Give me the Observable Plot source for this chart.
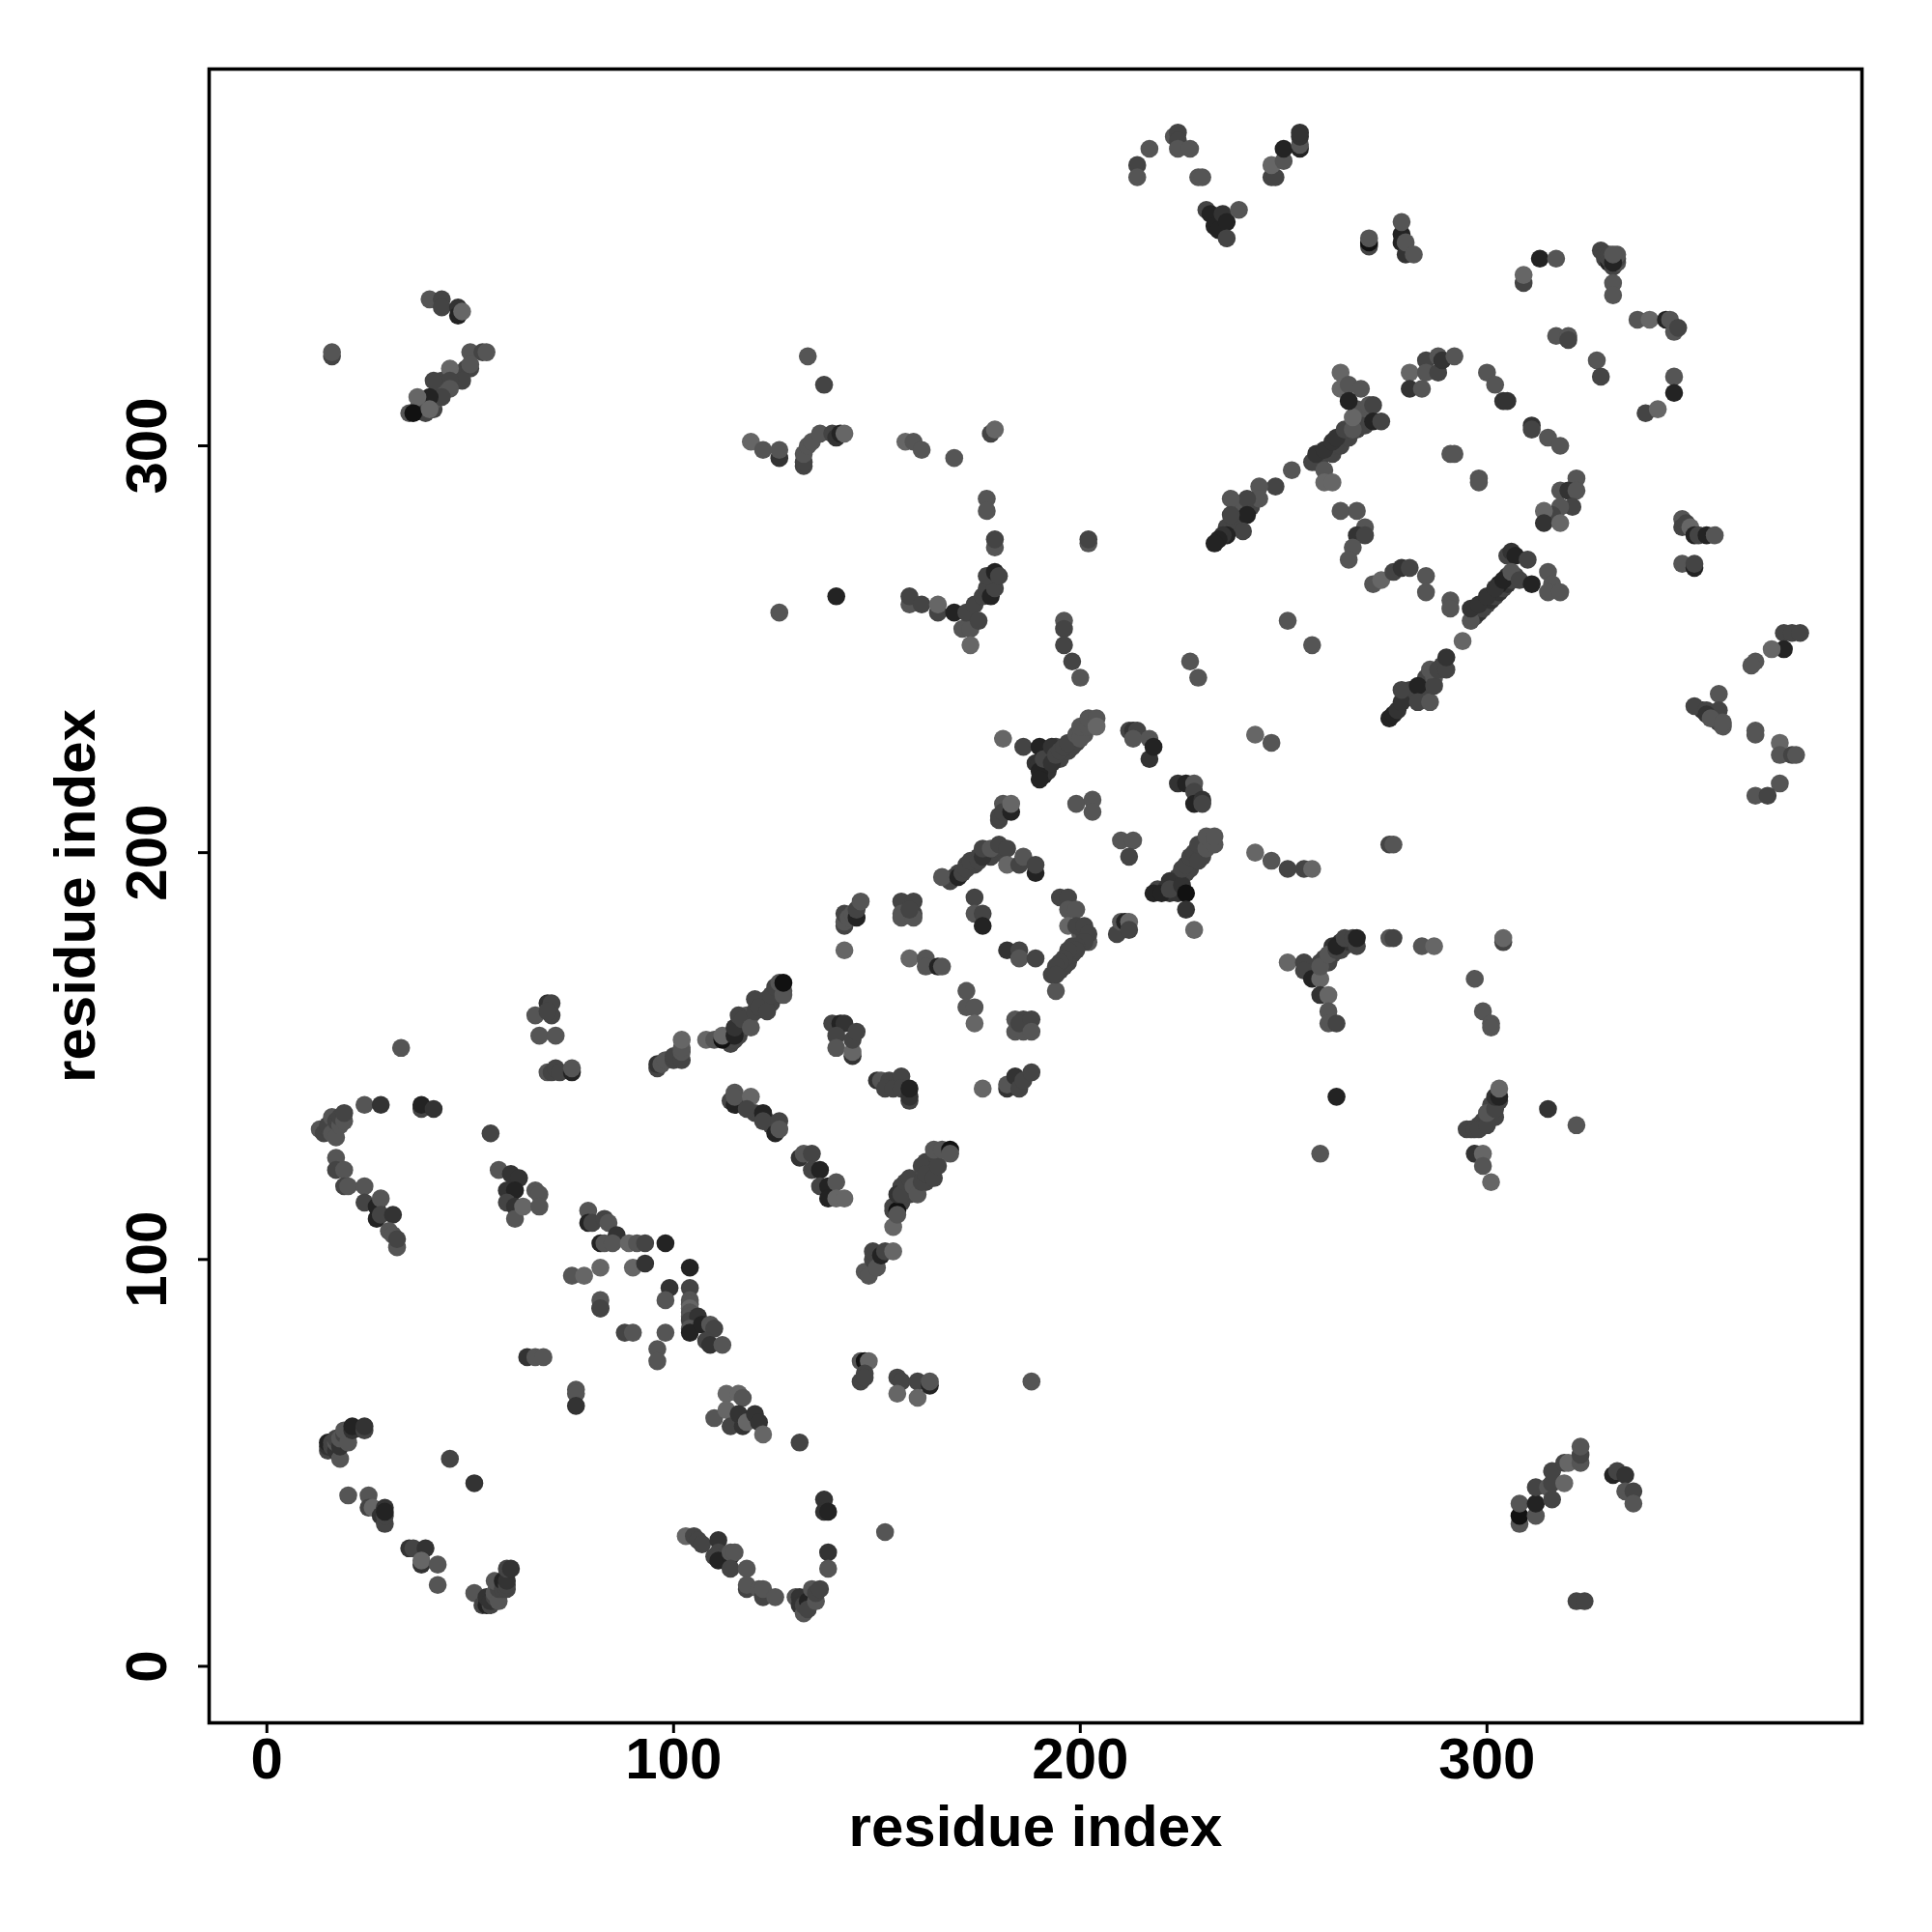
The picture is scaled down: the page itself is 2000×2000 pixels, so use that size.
<!DOCTYPE html>
<html><head><meta charset="utf-8">
<script src="https://cdn.jsdelivr.net/npm/d3@7"></script>
<script src="https://cdn.jsdelivr.net/npm/@observablehq/plot@0.6"></script>
<style>html,body{margin:0;padding:0;background:#fff}</style>
</head><body><div id="chart"></div>
<script>
// contacts as [residue i, residue j, level]; level 1 (weak) .. 6 (strong)
const denseBands = [[258,296,3],[259,297,3],[260,298,3],[261,299,3],[262,298,3],[262,300,3],[263,301,3],[264,300,3],[264,302,3],[265,303,3],[266,302,3],[266,304,3],[267,305,3],[268,304,3],[268,306,3],[270,306,3],[268,309,2],[269,307,2],[270,305,3],[271,307,2],[269,305,3],
[280,238,4],[281,240,3],[284,240,3],[285,243,3],[287,243,2],[289,246,3],
[297,258,3],[298,259,4],[299,260,3],[300,261,3],[301,262,4],[302,263,3],[303,264,4],[304,265,3],[305,266,4],[306,267,3],[307,268,3],[303,266,5],[305,268,4],
[238,284,3],[239,285,3],[240,286,2],[236,280,3],[242,285,3],
[189,222,4],[190,222,4],[191,219,5],[192,220,4],[192,222,3],[194,226,3],[195,223,3],[197,225,3],[198,226,3],[199,227,3],[201,229,2],[201,230,2],[203,232,2],
[219,191,3],[221,191,4],[222,190,4],[223,191,4],[224,190,4],[224,194,3],[226,195,3],[227,196,3],[228,198,3],[230,199,3],[230,201,2],[232,203,2],
[193,170,3],[195,171,3],[196,172,3],[197,173,3],[198,175,3],[198,177,3],[200,178,3],[200,180,2],[201,180,3],[202,178,2],
[168,193,3],[169,194,3],[170,195,3],[172,197,3],[174,197,3],[175,199,3],[177,200,3],[178,199,3],[180,200,3],[179,201,3],
[256,172,3],[257,171,3],[258,170,2],[258,171,3],[259,173,3],[260,174,3],[261,173,3],[262,175,3],[262,177,4],[264,176,3],[264,178,4],[265,177,3],[266,178,4],
[296,132,3],[298,133,3],[299,134,3],[301,135,3],[301,138,3],[302,135,3],[303,139,3],
[114,153,3],[115,154,3],[116,155,3],[117,157,3],[118,158,3],[118,160,2],[119,160,2],[122,163,3],[123,164,3],[124,163,3],[125,165,3],[126,166,2],[127,166,2],
[114,139,3],[116,139,3],[117,138,3],[118,139,2],[120,136,3],[123,134,3],[124,133,3],[125,133,2],
[154,112,3],[154,113,3],[156,114,3],[156,118,3],[157,117,3],[158,116,3],[158,118,3],[160,118,3],[162,119,3],[162,124,3],[163,122,3],[163,124,3],
[37,309,3],[38,310,3],[39,308,3],[39,311,3],[41,309,3],[41,311,2],[42,313,3],[42,315,3],[43,316,3],[44,315,2],[46,316,3],[47,317,3],[48,318,3],[49,319,3],
[353,235,4],[356,234,3],[357,232,3],[358,231,2],
[328,348,3],[329,346,3],[330,345,5],[330,346,3],[331,344,3],[332,345,2],[332,346,3],[332,347,2]];
const lowerLeft = [[15,53,3],[15,54,4],[15,55,5],[16,54,3],[16,55,3],[17,53,4],[17,55,2],[17,56,3],[18,51,2],[18,54,4],[18,56,2],[19,57,3],[19,58,2],[20,55,2],[21,58,4],[21,59,5],[24,58,3],[24,59,4],
[20,42,2],[25,42,2],[25,39,3],[26,39,1],[28,37,4],[29,35,3],[29,37,3],[29,39,4],[29,38,5],
[35,29,4],[36,29,3],[38,25,4],[39,29,4],[38,26,1],[42,25,2],[42,20,2],[45,51,3],[51,45,4],
[51,18,2],[53,15,3],[54,15,5],[55,15,3],[54,17,4],[55,16,4],[56,17,3],[56,18,2],[57,16,2],[57,19,3],[56,21,2],[58,19,3],[58,21,5],[59,19,3],[59,20,3],[59,21,4],[59,24,3],[60,24,4]];
const lowerMid = [[64,76,4],[66,76,2],[68,76,2],[76,68,2],[76,67,2],[76,64,4],[88,82,3],[90,82,2],[98,82,2],[96,78,2],[96,75,2],[82,88,3],
[103,32,1],[105,32,3],[106,31,3],[107,30,3],[111,31,4],[111,28,3],[110,27,3],[111,26,5],[114,27,5],[114,28,2],[115,28,2],[114,24,3],[118,24,2],[118,19,3],[118,20,2],[121,19,2],[122,17,3],[122,19,2],[125,17,2],
[130,17,2],[131,17,4],[131,15,4],[132,13,2],[132,15,3],[133,16,5],[133,14,3],[134,19,2],[135,16,2],[135,18,3],[136,19,3],[137,41,4],[137,38,4],[138,38,5],[138,28,4],[138,24,2],[152,33,2],
[110,61,2],[113,67,1],[116,67,1],[117,66,2],[113,63,1],[114,59,3],[116,62,4],[117,59,4],[118,60,1],[120,62,4],[121,60,4],[122,57,1],[131,55,3],
[146,75,2],[147,75,6],[148,75,1],[146,70,3],[147,72,3],[147,71,3],[155,71,3],[156,70,3],[155,67,1],[160,70,3],[160,66,1],[163,69,5],[163,70,2],[188,70,2],
[308,35,2],[308,37,6],[308,40,2],[312,37,2],[312,40,5],[312,44,3],[315,44,2],[316,41,3],[316,45,3],[316,48,3],[319,45,1],[319,50,3],[320,50,1],[323,50,2],[323,52,3],[323,54,2],
[331,47,5],[332,48,3],[334,47,4],[334,43,2],[336,43,3],[336,40,2],[322,16,3],[324,16,3]];
const midLeft = [[33,152,2],[24,138,2],[28,138,4],[38,137,3],[38,138,5],[41,137,4],
[13,132,2],[14,131,3],[15,132,3],[15,133,3],[16,131,2],[17,130,2],[16,135,2],[17,134,3],[18,133,2],[18,135,3],[19,134,2],[19,136,3],
[17,125,2],[17,122,3],[19,122,2],[19,118,3],[20,118,2],[24,118,2],[24,114,3],[27,113,5],[28,115,2],[27,110,5],[28,111,3],[31,111,4],[30,107,2],[31,106,2],[32,103,2],[32,105,3],
[69,163,4],[70,163,3],[66,160,2],[70,160,3],[69,161,3],[67,155,2],[71,155,2],[69,146,2],[70,146,3],[71,147,3],[72,146,3],[75,146,5],[75,147,2],[55,131,3],
[57,122,2],[60,121,4],[62,120,4],[59,117,4],[61,117,5],[59,114,3],[61,113,4],[61,110,2],[63,113,1],[66,117,2],[67,116,2],[67,113,2],
[79,112,2],[79,109,5],[80,109,3],[83,110,3],[84,109,2],[82,104,5],[83,104,2],[86,106,4],[85,104,2],[89,104,1],[91,104,2],[93,104,3],[98,104,5],
[82,98,1],[75,96,2],[78,96,1],[90,98,1],[93,99,4],[104,98,5],[99,93,4],[98,90,2],[104,93,3],[82,90,2],[82,88,3],
[104,90,2],[104,89,2],[104,88,1],[104,87,2],[104,86,2],[104,85,3],[106,86,4],[104,83,2],[104,82,5],[107,84,5],[109,84,2],[110,83,3],[108,80,3],[109,79,4],[112,79,2],
[96,147,3],[96,148,4],[97,148,2],[98,149,2],[100,149,3],[100,150,3],[102,149,3],[102,151,2],[102,152,2],[102,154,1]];
const midCentre = [[108,154,1],[110,154,2],[112,154,6],[112,155,1],[115,155,5],[115,157,4],[116,160,3],[117,159,3],[119,157,2],[120,161,3],[120,164,3],[121,162,3],[123,161,3],[124,165,3],[125,167,3],[127,165,2],[126,168,2],[127,168,6],
[115,138,5],[115,141,2],[115,140,2],[119,140,1],[118,137,3],[122,136,5],[122,134,3],[125,131,5],[126,134,3],[126,132,2],
[131,125,4],[132,126,2],[134,126,3],[134,122,3],[136,122,5],[136,118,3],[138,118,5],[140,119,2],[138,115,5],[140,115,1],[142,115,1],
[147,97,2],[148,96,2],[149,100,3],[149,102,3],[150,98,2],[151,101,5],[152,102,3],[154,102,1],
[155,112,6],[154,108,1],[155,111,2],[155,116,4],[156,116,3],[157,119,3],[158,120,3],[159,118,2],[160,116,2],[161,119,3],[161,123,3],[162,121,3],[164,120,3],[165,123,3],[164,127,2],[166,127,2],[168,127,6],[168,126,2],
[139,158,3],[141,158,5],[142,158,4],[140,155,3],[140,152,2],[144,150,4],[144,151,1],[144,154,3],[145,156,3],
[150,144,4],[151,144,2],[153,144,3],[152,142,3],[154,142,3],[156,145,3],[156,142,3],[158,139,3],[158,140,4],[158,142,5],
[142,176,1],[142,182,3],[142,183,2],[142,185,3],[143,184,2],[144,185,2],[145,184,5],[145,186,3],[146,188,2],
[156,188,3],[159,188,3],[156,185,2],[156,184,2],[159,185,3],[159,184,2],[158,186,3],
[158,174,1],[162,174,2],[162,172,2],[165,172,5],[166,172,2],[172,166,2],[172,162,2],[174,162,2],[174,158,1],
[182,176,4],[185,176,3],[185,174,2],[189,174,3],[194,166,2],
[184,159,2],[184,156,2],[186,159,3],[186,156,2],[185,158,3],[188,159,3],[188,156,2],
[176,142,1],[182,142,4],[182,143,2],[184,145,4],[185,142,3],[186,144,3],[188,146,3]];
const centreRing = [[166,194,2],[170,194,5],[171,195,3],[172,196,3],[173,198,3],[175,198,3],[176,199,4],[176,201,3],[178,201,2],[180,202,3],[182,201,3],[182,197,1],[185,197,3],[186,199,2],[189,195,5],[189,197,3],
[174,189,3],[174,185,2],[176,185,3],[176,182,5],[195,189,3],[197,189,3],[197,186,2],[199,186,2],[197,182,1],[199,182,3],[201,182,3],[202,180,3],[201,178,3],[199,177,3],[199,176,3],[197,176,3],[196,174,3],[195,173,3],[194,172,3],[194,170,3],
[180,208,3],[180,209,3],[181,212,2],[181,210,3],[183,210,5],[183,212,1],[199,212,2],[203,213,2],[203,210,2],
[209,180,3],[210,183,2],[211,183,5],[212,183,1],[212,181,3],[210,203,2],[213,203,2],[212,199,3],
[181,228,1],[186,226,3],[190,226,5],[190,220,5],[190,218,5],[191,223,3],[193,222,4],[193,226,4],[194,224,3],[195,225,3],[196,226,3],[197,227,3],[199,229,2],[200,228,2],[200,231,2],[202,231,2],[202,233,2],[204,233,2],[204,231,1],
[212,230,3],[213,230,4],[214,230,3],[213,228,2],[217,228,2],[217,223,4],[218,226,5],
[224,217,4],[226,217,5],[228,217,2],[228,215,3],[228,212,5],[230,213,4],[230,212,3],
[218,190,5],[220,190,5],[222,193,4],[222,191,3],[225,192,4],[225,196,3],[226,197,3],[227,199,3],[228,200,3],[229,198,3],[229,202,3],[231,201,2],[231,204,2],[233,202,2],[233,204,2],[226,190,6],[226,186,4],[228,181,1],
[243,229,1],[247,227,2],[227,247,2],[229,243,2],[196,257,2],[196,255,3],[196,251,3],[198,247,3],[200,243,2],[243,200,1],[247,198,2],[251,196,3],[255,196,3],[257,196,1],[276,202,3],[277,202,2]];
const lowerRight = [[251,173,1],[255,173,3],[255,171,3],[257,169,5],[259,169,1],[259,172,2],[261,175,2],[263,176,3],[263,177,5],[265,179,3],[267,179,3],[268,177,3],[268,179,5],[259,165,4],[261,165,1],[261,161,2],[261,158,2],[263,158,3],[263,140,5],[259,126,2],
[276,179,2],[277,179,3],[284,177,2],[287,177,1],[304,178,3],[304,179,1],[297,169,2],[299,161,2],[301,158,2],[301,157,2],
[295,132,3],[297,132,3],[298,132,3],[300,133,3],[300,136,2],[302,137,3],[302,140,4],[303,140,5],[303,142,1],[315,137,4],[322,133,2],[297,126,4],[299,126,1],[299,123,2],[301,119,1]];
const upperCentre = [[276,233,5],[277,234,5],[278,235,4],[279,237,4],[279,240,3],[283,241,5],[283,237,3],[286,237,2],[287,241,3],[286,245,2],[288,245,3],[290,245,3],[290,248,4],[294,252,1],
[251,257,2],[257,251,2],[291,262,2],[291,260,2],[296,257,2],[296,260,4],[298,261,4],[300,263,4],[302,265,4],[304,267,5],[305,273,3],[306,274,4],[307,273,5],[306,269,2],[308,267,3],[310,272,3],[311,266,5],[315,269,2],[316,266,2],[315,264,2],[318,264,2],
[272,266,2],[274,267,1],[277,269,3],[279,270,4],[281,270,3],[285,268,2],[285,264,2],
[264,284,2],[268,284,2],[270,280,2],[268,278,4],[270,278,3],[267,275,2],[266,272,2],
[252,294,2],[248,290,3],[244,290,2],[244,287,2],[241,287,3],[237,287,2],[238,281,3],[241,283,5],[237,283,3],[240,279,3],[236,278,5],[235,278,4],[234,277,5],[233,276,5],
[257,296,3],[258,298,4],[260,294,2],[260,291,1],[262,291,1],[260,299,4],[262,301,4],[263,302,4],[265,304,3],[267,304,2],[267,307,1],
[264,318,1],[264,314,1],[266,315,2],[269,314,2],[266,311,5],[271,310,2],[272,310,3],[272,306,5],[274,306,3],
[281,318,1],[281,314,4],[284,314,2],[285,321,3],[285,318,2],[288,318,3],[288,322,2],[289,321,4],[292,322,2],
[300,318,2],[302,315,2],[304,311,4],[305,311,4],[311,305,4],[311,304,3],[315,302,2],[318,300,2],[291,298,2],[292,298,2],[298,292,2],[298,291,2],
[322,292,2],[318,289,2],[320,289,4],[322,289,2],[321,285,3],[318,285,2],[316,283,3],[314,284,1],[314,281,4],[318,281,1]];
const upperRight = [[313,346,5],[317,346,2],[309,340,3],[309,342,1],[329,347,3],[330,347,3],[331,345,5],[331,347,2],[331,340,2],[331,337,2],
[337,331,2],[340,331,1],[344,331,5],[345,331,2],[346,328,2],[347,329,3],[346,317,2],[346,313,5],[339,308,3],[342,309,1],
[317,327,2],[320,327,2],[320,326,3],[327,321,2],[328,317,3],
[348,282,2],[348,280,3],[349,281,3],[350,280,1],[351,278,5],[352,278,3],[354,278,5],[356,278,2],[348,271,2],[351,270,5],[351,271,3],
[373,254,3],[375,254,3],[377,254,3],[373,250,5],[370,250,1],[366,247,2],[365,246,2],
[351,236,3],[357,239,2],[354,235,3],[357,235,3],[354,234,4],[355,233,2],[358,232,2],[366,230,2],[366,229,2],[372,227,1],[372,224,2],[375,224,3],[376,224,2],[372,217,2],[366,214,2],[369,214,3]];
const topEdge = [[214,369,3],[214,366,2],[217,373,2],[223,376,2],[224,377,3],[224,375,3],[224,373,2],[227,373,2],[229,366,2],[230,366,2],
[231,358,3],[232,357,5],[233,354,5],[234,353,5],[235,357,4],[236,355,5],[236,351,3],[239,358,2],
[247,366,3],[248,366,3],[247,369,1],[250,370,2],[250,373,5],[254,373,5],[254,374,2],[254,376,4],[254,377,4],
[271,349,3],[271,350,6],[271,351,2],[279,350,5],[279,352,5],[279,355,2],[280,347,4],[280,350,2],[282,347,2]];
const upperLeft = [[16,322,3],[16,323,2],[40,336,2],[43,336,3],[43,334,3],[47,334,4],[47,332,5],[48,333,1],
[50,323,2],[53,323,3],[54,323,2],[50,319,3],[50,320,2],[45,319,1],[48,316,3],[45,316,3],[41,316,3],[45,314,2],[43,312,3],[40,312,5],[37,312,1],[35,308,2],[36,308,6],[40,309,1],
[133,322,2],[137,315,3],[119,301,1],[122,299,2],[126,297,4],[126,299,2],[132,295,3],[132,296,3],[132,298,2],[133,300,2],[134,301,2],[136,303,2],[139,303,3],[140,302,4],[141,303,5],[142,303,1],
[157,301,1],[159,301,2],[161,299,2],[169,297,2],[178,303,3],[179,304,1],[177,287,2],[177,284,2],[179,275,2],[179,277,3],[202,276,2],[202,277,3],
[140,263,5],[126,259,2],[158,261,2],[158,263,3],[161,261,3],[165,259,3],[165,261,1],[169,259,5],[171,255,2],[173,255,2],[173,251,1],[172,259,3],[174,261,3],[175,257,3],[176,263,3],[177,265,3],[178,263,5],[179,265,3],[177,268,3],[179,269,5],[180,268,3]];

const levels = [1,2,3,4,5,6];
const levelGrays = ["#666666","#555555","#444444","#333333","#232323","#111111"];
const xTicks = [0,100,200,300];
const yTicks = [0,100,200,300];
const axisTitle = "residue index";

const contacts = [...denseBands,...lowerLeft,...lowerMid,...midLeft,...midCentre,...centreRing,...lowerRight,...upperCentre,...upperRight,...topEdge,...upperLeft]
  .map(([i,j,level]) => ({i,j,level}));

const chart = Plot.plot({
  width: 2000, height: 2000,
  marginLeft: 216, marginRight: 73, marginTop: 71, marginBottom: 217,
  style: {fontFamily: "'Liberation Sans', Arial, sans-serif", background: "#fff"},
  x: {domain: [-14.2, 392.2]},
  y: {domain: [-13.9, 392.6]},
  color: {type: "ordinal", domain: levels, range: levelGrays},
  marks: [
    Plot.dot(contacts, {x: "i", y: "j", r: 9.3, fill: "level", stroke: "none"}),
    Plot.frame({stroke: "black", strokeWidth: 3.6, fill: "none"}),
    Plot.axisX(xTicks, {anchor: "bottom", tickSize: 11, tickPadding: 4, strokeWidth: 3, stroke: "black", fill: "black",
      fontSize: 60, fontWeight: "bold", tickFormat: d => String(d),
      label: axisTitle, labelAnchor: "center", labelArrow: "none", labelOffset: 127}),
    Plot.axisY(yTicks, {anchor: "left", tickSize: 11, tickPadding: 34, strokeWidth: 3, stroke: "black", fill: "black",
      fontSize: 60, fontWeight: "bold", tickFormat: d => String(d), tickRotate: -90, textAnchor: "middle",
      label: axisTitle, labelAnchor: "center", labelArrow: "none", labelOffset: 161})
  ]
});
document.getElementById("chart").appendChild(chart);
</script></body></html>
